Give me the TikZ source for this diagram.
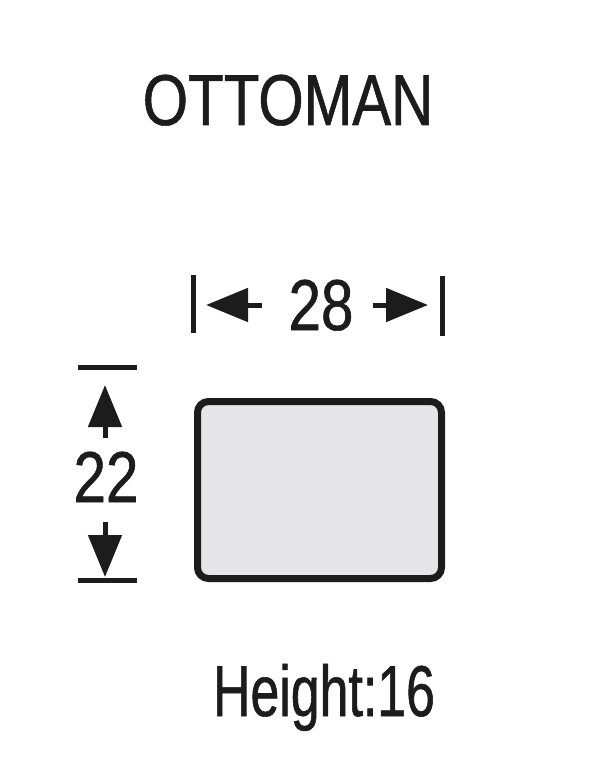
\documentclass[tikz,border=0pt]{standalone}
\usepackage{fontspec}
\setmainfont[FakeStretch=0.81,FakeBold=0.8]{Liberation Sans}
\newfontfamily\narrowfont[FakeStretch=0.72,FakeBold=0.8]{Liberation Sans}
\usetikzlibrary{arrows.meta}
\definecolor{ink}{HTML}{1C1C1C}
\definecolor{seat}{HTML}{E6E6E8}
\begin{document}
\begin{tikzpicture}[x=1pt,y=-1pt,
    label/.style={text=ink,anchor=base,inner sep=0pt,font=\fontsize{72}{72}\selectfont},
    bar/.style={draw=ink,line width=5pt},
    dimarrow/.style={draw=ink,line width=5pt,-{Triangle[length=42pt,width=33pt]}}]
          \useasboundingbox (0,0) rectangle (604,762);
          \node[label] at (288,125) (title) {OTTOMAN};
          % width
          \node[label] at (321,330) (w) {28};
          \coordinate (wl1) at (193,275);
          \coordinate (wl2) at (193,333);
          \coordinate (wr1) at (442,276);
          \coordinate (wr2) at (442,336);
          \coordinate (wls) at (262,305);
          \coordinate (wlt) at (206,305);
          \coordinate (wrs) at (373,305);
          \coordinate (wrt) at (428,305);
          \path[bar] (wl1) -- (wl2);
          \path[bar] (wr1) -- (wr2);
          \path[dimarrow] (wls) -- (wlt);
          \path[dimarrow] (wrs) -- (wrt);
          % depth
          \node[label] at (106,502) (d) {22};
          \coordinate (dt1) at (78,367);
          \coordinate (dt2) at (137,367);
          \coordinate (db1) at (78,580);
          \coordinate (db2) at (137,580);
          \coordinate (dts) at (105,438);
          \coordinate (dtt) at (105,385);
          \coordinate (dbs) at (105,522);
          \coordinate (dbt) at (105,577);
          \path[bar] (dt1) -- (dt2);
          \path[bar] (db1) -- (db2);
          \path[dimarrow] (dts) -- (dtt);
          \path[dimarrow] (dbs) -- (dbt);
          % seat
          \draw[draw=ink,fill=seat,line width=7pt,rounded corners=11pt] (197.5,401.5) rectangle (441.5,578.5);
          \node[label,font=\narrowfont\fontsize{72}{72}\selectfont] at (324,716) (h) {Height:16};
        \end{tikzpicture}
\end{document}
